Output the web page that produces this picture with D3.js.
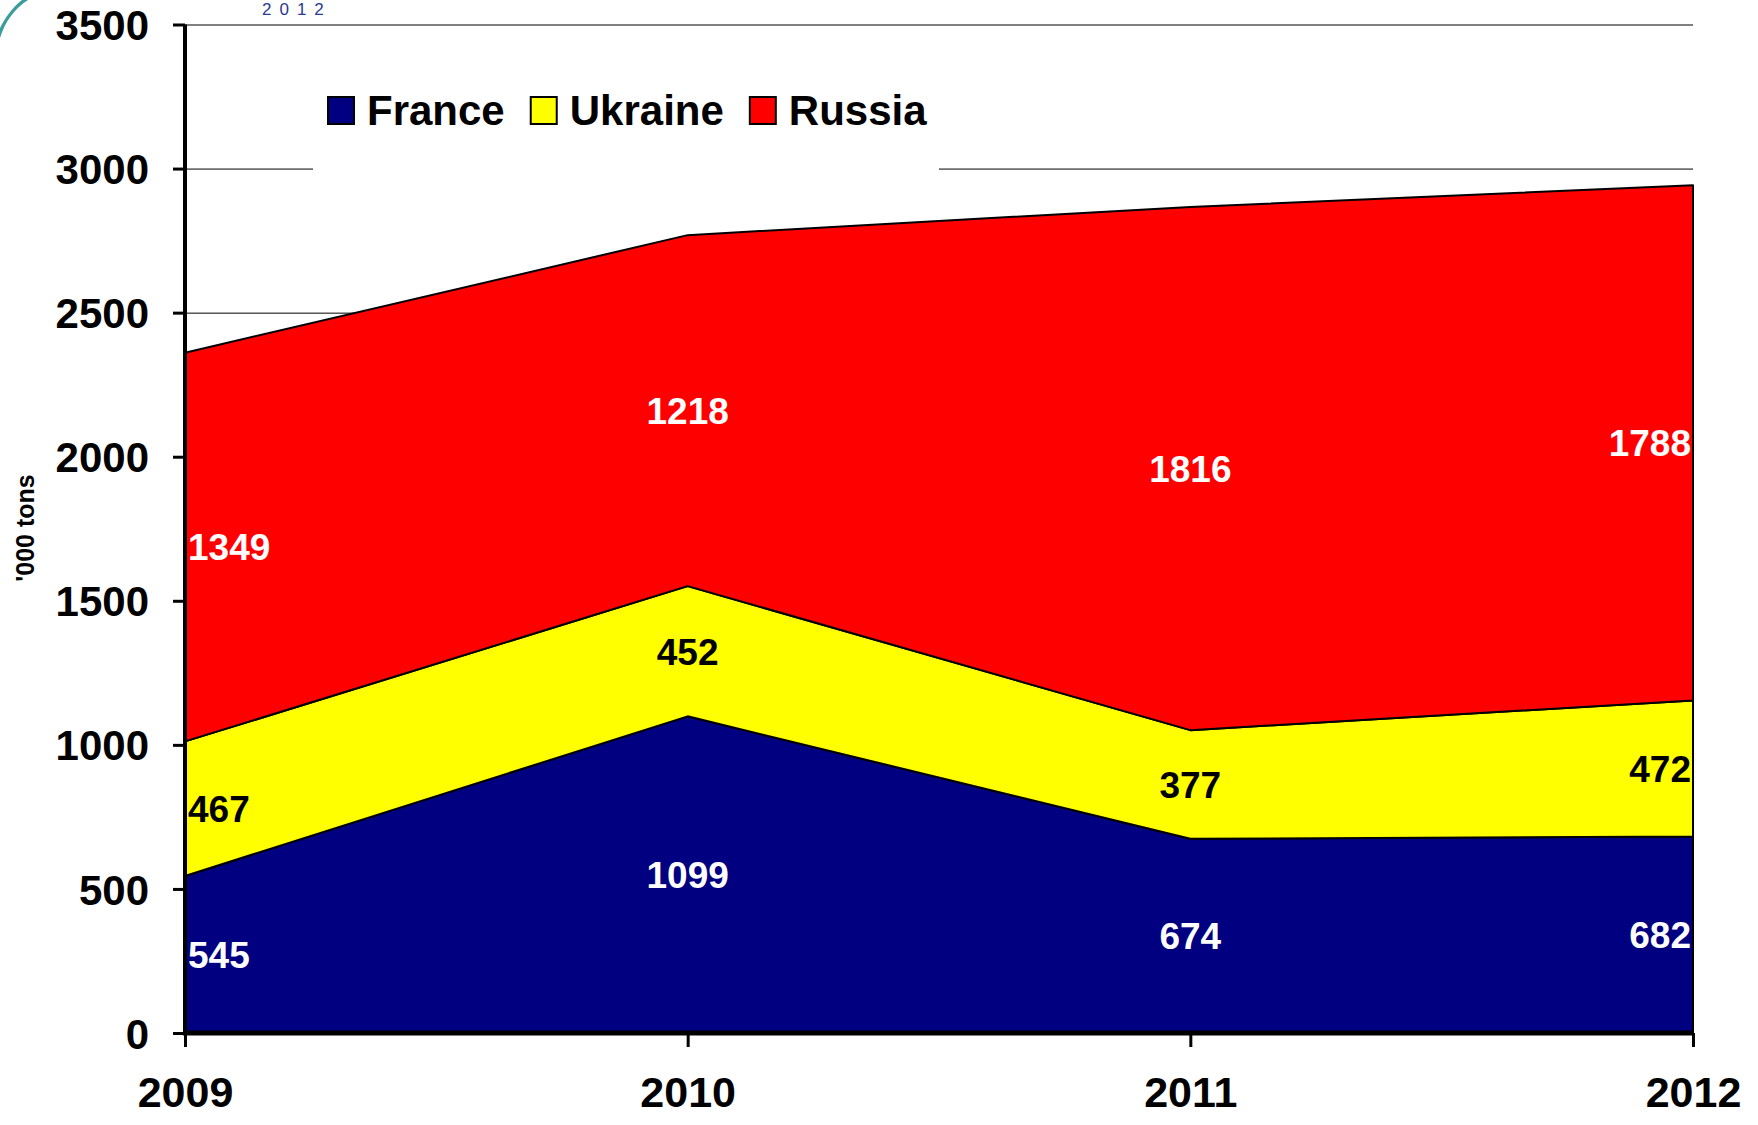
<!DOCTYPE html>
<html>
<head>
<meta charset="utf-8">
<script src="https://cdn.jsdelivr.net/npm/d3@7"></script>
<style>
  body { margin: 0; background: white; }
  text { font-family: Arial, "Liberation Sans", sans-serif; font-weight: bold; }
</style>
</head>
<body>
<div class="area-chart"></div>
<script>
const years = ['2009', '2010', '2011', '2012'];
const seriesNames = ['France', 'Ukraine', 'Russia'];
const france = [545, 1099, 674, 682];
const ukraine = [467, 452, 377, 472];
const russia = [1349, 1218, 1816, 1788];
const yTicks = [0, 500, 1000, 1500, 2000, 2500, 3000, 3500];

const colors = { France: '#000080', Ukraine: '#FFFF00', Russia: '#FF0000' };
const labelColors = { France: '#ffffff', Ukraine: '#000000', Russia: '#ffffff' };

const W = 1758, H = 1125;
const margin = { left: 185, right: 65, top: 24.5, bottom: 92 };
const width = W - margin.left - margin.right;
const height = H - margin.top - margin.bottom;

const svg = d3.select('.area-chart').append('svg')
  .attr('width', W)
  .attr('height', H)
  .style('background-color', 'white');

// bits of the logo peeking in at the top
svg.append('path')
  .attr('d', 'M0,38 C5,22 14,9 28,0 L22,0 C12,8 5,18 0,28 Z')
  .style('fill', '#3a9c9c');
svg.append('text')
  .attr('x', 262).attr('y', 15)
  .style('font-size', '17px')
  .style('font-weight', 'normal')
  .style('letter-spacing', '8px')
  .style('fill', '#2b3990')
  .text('2012');

const g = svg.append('g')
  .attr('transform', `translate(${margin.left}, ${margin.top})`);

const data = years.map((y, i) => ({ year: y, France: france[i], Ukraine: ukraine[i], Russia: russia[i] }));

const xScale = d3.scalePoint()
  .domain(years)
  .range([0, width]);

const yScale = d3.scaleLinear()
  .domain([0, 3500])
  .range([height, 0]);

// gridlines (mostly hidden by the areas)
g.append('g')
  .attr('class', 'grid')
  .call(d3.axisLeft(yScale).tickValues(yTicks).tickSize(-width).tickFormat(''))
  .call(s => s.select('.domain').remove())
  .selectAll('line')
  .style('stroke', '#000')
  .style('stroke-width', 1);

const stack = d3.stack().keys(seriesNames);
const layers = stack(data);

const area = d3.area()
  .x(d => xScale(d.data.year))
  .y0(d => yScale(d[0]))
  .y1(d => yScale(d[1]));

g.selectAll('.layer')
  .data(layers)
  .enter()
  .append('path')
  .attr('class', 'layer')
  .attr('d', area)
  .style('fill', d => colors[d.key])
  .style('stroke', '#000')
  .style('stroke-width', 2)
  .style('stroke-linejoin', 'round');

// data labels in the middle of each band
layers.forEach(layer => {
  g.selectAll(null)
    .data(layer)
    .enter()
    .append('text')
    .attr('x', (d, i) => {
      const x = xScale(d.data.year);
      if (i === 0) return x + 3;
      if (i === years.length - 1) return x - 2;
      return x;
    })
    .attr('y', d => yScale((d[0] + d[1]) / 2))
    .attr('dy', '0.36em')
    .attr('text-anchor', (d, i) => i === 0 ? 'start' : (i === years.length - 1 ? 'end' : 'middle'))
    .style('font-size', '37px')
    .style('fill', labelColors[layer.key])
    .text(d => d.data[layer.key]);
});

// axes
const yAxis = g.append('g')
  .call(d3.axisLeft(yScale).tickValues(yTicks).tickSize(12).tickPadding(24).tickFormat(d3.format('d')));
yAxis.select('.domain').remove();
yAxis.selectAll('line').style('stroke', '#000').style('stroke-width', 3);
yAxis.selectAll('text').style('font-size', '42px').style('fill', '#000').attr('dy', '0.36em');

const xAxis = g.append('g')
  .attr('transform', `translate(0, ${height})`)
  .call(d3.axisBottom(xScale).tickSize(14).tickPadding(29));
xAxis.select('.domain').remove();
xAxis.selectAll('line').style('stroke', '#000').style('stroke-width', 3);
xAxis.selectAll('text').style('font-size', '43px').style('fill', '#000');

g.append('line')
  .attr('x1', 0).attr('x2', 0)
  .attr('y1', 0).attr('y2', height + 2)
  .style('stroke', '#000').style('stroke-width', 4);
g.append('line')
  .attr('x1', -2).attr('x2', width + 1)
  .attr('y1', height).attr('y2', height)
  .style('stroke', '#000').style('stroke-width', 5);

svg.append('text')
  .attr('transform', `translate(34, 528) rotate(-90)`)
  .attr('text-anchor', 'middle')
  .style('font-size', '25px')
  .text("'000 tons");

// legend
const legend = svg.append('g');
legend.append('rect')
  .attr('x', 313).attr('y', 45)
  .attr('width', 626).attr('height', 135)
  .style('fill', 'white');

let lx = 328;
seriesNames.forEach(name => {
  legend.append('rect')
    .attr('x', lx).attr('y', 97)
    .attr('width', 26).attr('height', 27)
    .style('fill', colors[name])
    .style('stroke', '#000')
    .style('stroke-width', 2);
  const t = legend.append('text')
    .attr('x', lx + 39).attr('y', 125)
    .style('font-size', '42px')
    .text(name);
  lx += 39 + t.node().getComputedTextLength() + 26;
});
</script>
</body>
</html>
